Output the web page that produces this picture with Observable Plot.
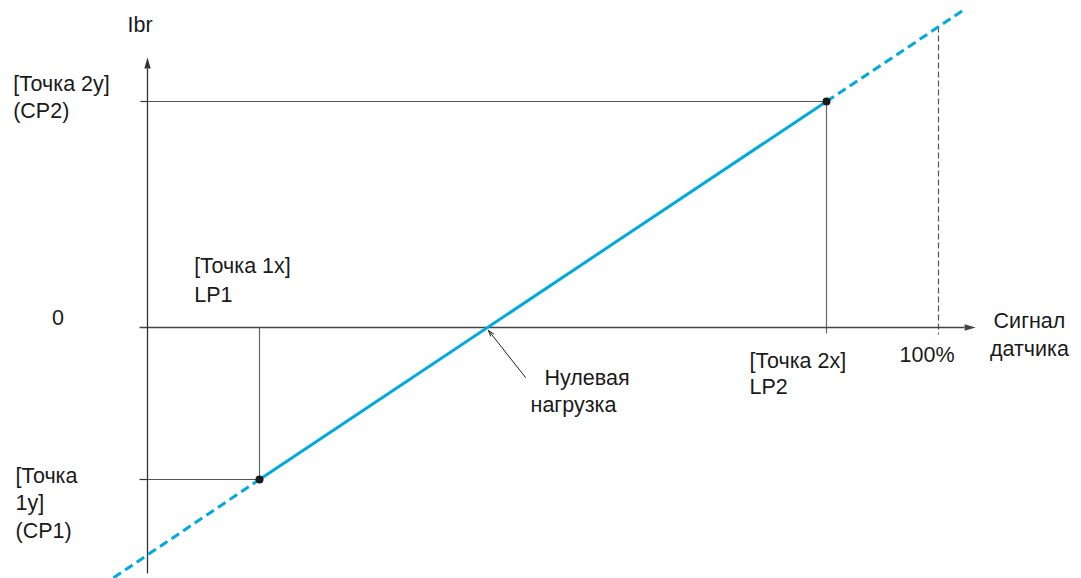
<!DOCTYPE html>
<html>
<head>
<meta charset="utf-8">
<script src="https://cdn.jsdelivr.net/npm/d3@7"></script>
<script src="https://cdn.jsdelivr.net/npm/@observablehq/plot@0.6"></script>
<style>
  html, body { margin: 0; padding: 0; background: #fff; }
  #chart svg { display: block; }
</style>
</head>
<body>
<div id="chart"></div>
<script>
// Calibration points (x: sensor signal %, y: Ibr)
const pointX = [14.16, 85.84];      // LP1, LP2
const pointY = [-67.26, 100];       // CP1, CP2
const fullScaleX = 100;             // 100%
// Extended (dashed) ends of the characteristic line
const lineStartX = -4.30, lineStartY = -110.75;
const lineEndX = 103.41, lineEndY = 141.0;
// Top of the 100% dashed marker (on the characteristic)
const fullScaleTopY = 133.2;
// Axis extents
const xAxisFrom = -1.0, xAxisTo = 103.3;
const yAxisFrom = -108.8, yAxisTo = 114.6;

// Label texts
const labelText = ["Ibr", "[Точка 2y]", "(CP2)", "0", "[Точка 1x]", "LP1",
  "[Точка", "1y]", "(CP1)", "Нулевая", "нагрузка", "[Точка 2x]", "LP2", "100%",
  "Сигнал", "датчика"];
const labelX = [-2.53, -16.98, -16.98, -11.31, 5.9, 5.9, -16.69, -16.69, -16.69,
  50.19, 48.42, 76.11, 76.11, 95.07, 111.5, 111.5];
const labelY = [133.63, 107.52, 95.58, 3.98, 26.99, 14.16, -65.93, -77.88, -90.27,
  -22.57, -34.51, -15.04, -26.55, -12.39, 3.0, -9.5];
const labelAnchor = ["start", "start", "start", "middle", "start", "start", "start", "start", "start",
  "start", "start", "start", "start", "start", "middle", "middle"];

const labels = labelText.map((t, i) => ({text: t, x: labelX[i], y: labelY[i], anchor: labelAnchor[i]}));

const blue = "#00a9e0";
const axisColor = "#333333";
const guideColor = "#555555";
const font = "Liberation Sans, Arial, Helvetica, sans-serif";

const headShape = {
  draw(context, l, r) {
    context.moveTo(0, -l);
    context.lineTo(-r, 0);
    context.lineTo(r, 0);
    context.closePath();
  }
};

const P1 = {x: pointX[0], y: pointY[0]};
const P2 = {x: pointX[1], y: pointY[1]};

const textMarks = ["start", "middle"].map(a =>
  Plot.text(labels.filter(d => d.anchor === a), {
    x: "x", y: "y", text: "text", textAnchor: a, lineAnchor: "middle",
    fontSize: 21.5, fontFamily: font, fill: "#1a1a1a"
  })
);

const lk = {x1: "x1", y1: "y1", x2: "x2", y2: "y2"};

const chart = Plot.plot({
  width: 1081,
  height: 578,
  margin: 0,
  x: {domain: [0, 100], range: [147, 938], axis: null},
  y: {domain: [0, 100], range: [327, 101], axis: null},
  style: {background: "#fff"},
  marks: [
    // guide lines
    Plot.link([{x1: 0, y1: P2.y, x2: P2.x, y2: P2.y}], {...lk, stroke: guideColor, strokeWidth: 1.2}),
    Plot.link([{x1: P2.x, y1: P2.y, x2: P2.x, y2: -2.65}], {...lk, stroke: "#666", strokeWidth: 1.2}),
    Plot.link([{x1: 0, y1: P1.y, x2: P1.x, y2: P1.y}], {...lk, stroke: guideColor, strokeWidth: 1.2}),
    Plot.link([{x1: P1.x, y1: P1.y, x2: P1.x, y2: 0}], {...lk, stroke: "#666", strokeWidth: 1.2}),
    Plot.link([{x1: fullScaleX, y1: fullScaleTopY, x2: fullScaleX, y2: -3.1}], {...lk, stroke: "#555", strokeWidth: 1.2, strokeDasharray: "6,3"}),
    // y-axis ticks
    Plot.link([{x1: -0.9, y1: P2.y, x2: 0, y2: P2.y}, {x1: -1.0, y1: P1.y, x2: 0, y2: P1.y}], {...lk, stroke: axisColor, strokeWidth: 1.2}),
    // axes
    Plot.link([{x1: xAxisFrom, y1: 0, x2: xAxisTo, y2: 0}], {...lk, stroke: "#444", strokeWidth: 1.3}),
    Plot.link([{x1: 0, y1: yAxisFrom, x2: 0, y2: yAxisTo}], {...lk, stroke: axisColor, strokeWidth: 1.3}),
    Plot.vector([{x: 0, y: yAxisTo}], {x: "x", y: "y", length: 11, r: 3.2, rotate: 0, anchor: "start", shape: headShape, fill: axisColor, stroke: "none"}),
    Plot.vector([{x: xAxisTo, y: 0}], {x: "x", y: "y", length: 11, r: 3.2, rotate: 90, anchor: "start", shape: headShape, fill: "#444", stroke: "none"}),
    // characteristic line
    Plot.link([{x1: lineStartX, y1: lineStartY, x2: P1.x, y2: P1.y}, {x1: P2.x, y1: P2.y, x2: lineEndX, y2: lineEndY}],
      {...lk, stroke: blue, strokeWidth: 3, strokeDasharray: "9,5"}),
    Plot.link([{x1: P1.x, y1: P1.y, x2: P2.x, y2: P2.y}], {...lk, stroke: blue, strokeWidth: 3}),
    // calibration points
    Plot.dot([P1, P2], {x: "x", y: "y", r: 4, fill: "#1a1a1a", stroke: "none"}),
    // zero-load annotation arrow
    Plot.arrow([{x1: 47.79, y1: -22.12, x2: 43.11, y2: -1.33}], {...lk, stroke: "#222", strokeWidth: 1, headLength: 9, headAngle: 35}),
    ...textMarks
  ]
});

document.getElementById("chart").appendChild(chart);
</script>
</body>
</html>
